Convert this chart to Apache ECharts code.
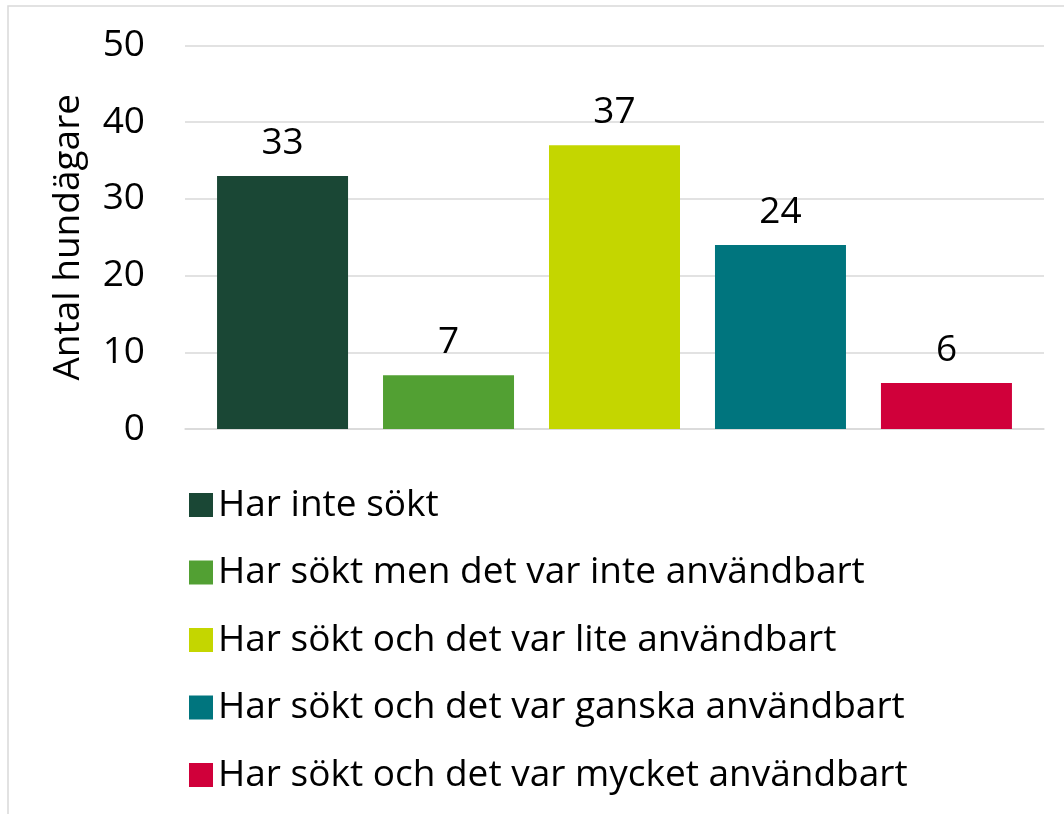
<!DOCTYPE html>
<html>
<head>
<meta charset="utf-8">
<script src="https://cdn.jsdelivr.net/npm/echarts@6/dist/echarts.min.js"></script>
<style>
html,body{margin:0;padding:0;background:#fff;}
#chart{width:1064px;height:814px;}
</style>
</head>
<body>
<div id="chart"></div>
<script>
const categories = ['Har inte sökt', 'Har sökt men det var inte användbart', 'Har sökt och det var lite användbart', 'Har sökt och det var ganska användbart', 'Har sökt och det var mycket användbart'];
const values = [33, 7, 37, 24, 6];
const colors = ['#1A4735', '#52A033', '#C4D600', '#00757E', '#D0003A'];
const yTicks = [0, 10, 20, 30, 40, 50];
const yAxisName = 'Antal hundägare';

const FONT = 'Open Sans';
const chart = echarts.init(document.getElementById('chart'), null, {renderer: 'canvas'});
const series = categories.map((name, i) => ({
  name: name,
  type: 'bar',
  data: [values[i]],
  barWidth: 131,
  barGap: '26.7%',
  itemStyle: {color: colors[i]},
  label: {show: true, position: 'top', distance: 14, color: '#000', fontSize: 37, fontFamily: FONT},
  animation: false
}));
chart.setOption({
  animation: false,
  textStyle: {fontFamily: FONT},
  graphic: [{
    type: 'rect', shape: {x: 8, y: 6, width: 1100, height: 900},
    style: {fill: 'none', stroke: '#d9d9d9', lineWidth: 1.5}, silent: true
  }],
  grid: {left: 185, right: 20, top: 45.5, height: 383.5},
  xAxis: {
    type: 'category', data: [''],
    axisLine: {lineStyle: {color: '#d9d9d9', width: 1.5}},
    axisTick: {show: false}, axisLabel: {show: false}
  },
  yAxis: {
    type: 'value', min: yTicks[0], max: yTicks[yTicks.length - 1], interval: 10,
    name: yAxisName, nameLocation: 'middle', nameGap: 98, nameRotate: 90,
    nameTextStyle: {fontSize: 37, color: '#000', fontFamily: FONT},
    axisLine: {show: false}, axisTick: {show: false},
    axisLabel: {fontSize: 37, color: '#000', margin: 40, fontFamily: FONT},
    splitLine: {lineStyle: {color: '#d9d9d9', width: 1.5}}
  },
  legend: {
    orient: 'vertical', left: 184, top: 480,
    icon: 'rect', itemWidth: 24, itemHeight: 24, itemGap: 27.5,
    textStyle: {fontSize: 37, color: '#000', lineHeight: 40, fontFamily: FONT, padding: [0, 0, 0, 0]},
    data: categories
  },
  series: series
});
</script>
</body>
</html>
